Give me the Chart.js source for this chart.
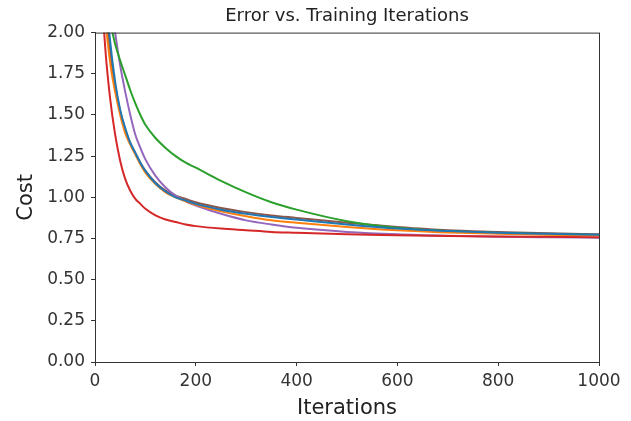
<!DOCTYPE html>
<html>
<head>
<meta charset="utf-8">
<script src="https://cdn.jsdelivr.net/npm/chart.js@4.4.1/dist/chart.umd.min.js"></script>
<style>
  html, body { margin: 0; padding: 0; background: #fff; }
  #wrap { width: 631px; height: 421px; }
</style>
</head>
<body>
<div id="wrap"><canvas id="costChart" width="631" height="421"></canvas></div>
<script>
// iterations
const iterations = [0, 10, 20, 30, 40, 50, 60, 70, 80, 90, 100, 120, 140, 160, 180, 200, 250, 300, 350, 400, 500, 600, 700, 800, 900, 1000];

// cost per run (values above 2 run off the top of the axes)
const costBlue   = [3.6, 2.9, 2.3, 1.95, 1.7, 1.53, 1.42, 1.33, 1.27, 1.21, 1.16, 1.085, 1.035, 1.0, 0.98, 0.96, 0.925, 0.9, 0.88, 0.865, 0.835, 0.81, 0.795, 0.785, 0.778, 0.772];
const costOrange = [3.5, 2.75, 2.12, 1.82, 1.64, 1.5, 1.39, 1.32, 1.26, 1.2, 1.15, 1.08, 1.03, 1.0, 0.975, 0.955, 0.915, 0.885, 0.86, 0.845, 0.82, 0.80, 0.787, 0.779, 0.773, 0.769];
const costGreen  = [3.2, 2.7, 2.35, 2.08, 1.93, 1.83, 1.74, 1.65, 1.57, 1.5, 1.44, 1.36, 1.3, 1.25, 1.21, 1.18, 1.1, 1.03, 0.97, 0.925, 0.855, 0.815, 0.795, 0.783, 0.776, 0.771];
const costRed    = [3.2, 2.45, 1.92, 1.6, 1.38, 1.22, 1.11, 1.04, 0.99, 0.96, 0.93, 0.89, 0.865, 0.85, 0.835, 0.825, 0.81, 0.80, 0.79, 0.785, 0.775, 0.77, 0.765, 0.762, 0.76, 0.758];
const costPurple = [4.0, 3.2, 2.65, 2.25, 2.0, 1.8, 1.64, 1.5, 1.38, 1.3, 1.23, 1.13, 1.06, 1.01, 0.975, 0.95, 0.9, 0.86, 0.835, 0.815, 0.79, 0.775, 0.766, 0.76, 0.757, 0.755];
const costBrown  = [3.5, 2.8, 2.2, 1.88, 1.67, 1.52, 1.41, 1.33, 1.27, 1.21, 1.16, 1.09, 1.04, 1.01, 0.99, 0.97, 0.935, 0.91, 0.89, 0.875, 0.845, 0.82, 0.80, 0.79, 0.781, 0.775];

const yTicks = [0, 0.25, 0.5, 0.75, 1.0, 1.25, 1.5, 1.75, 2.0];
const xTicks = [0, 200, 400, 600, 800, 1000];

const series = [
  { values: costBlue,   color: '#1f77b4' },
  { values: costOrange, color: '#ff7f0e' },
  { values: costGreen,  color: '#2ca02c' },
  { values: costRed,    color: '#d62728' },
  { values: costPurple, color: '#9467bd' },
  { values: costBrown,  color: '#8c564b' }
];

const font = 'DejaVu Sans';
const ink = '#333333';

// matplotlib style box around the axes
const frame = {
  id: 'frame',
  afterDatasetsDraw(chart) {
    const { ctx, chartArea: a } = chart;
    ctx.save();
    ctx.strokeStyle = ink;
    ctx.lineWidth = 1;
    ctx.strokeRect(a.left + 0.5, a.top + 0.5, a.right - a.left, a.bottom - a.top);
    ctx.restore();
  }
};

new Chart(document.getElementById('costChart').getContext('2d'), {
  type: 'line',
  data: {
    datasets: series.map(s => ({
      data: iterations.map((it, i) => ({ x: it, y: s.values[i] })),
      borderColor: s.color,
      borderWidth: 2,
      pointRadius: 0,
      fill: false,
      cubicInterpolationMode: 'monotone'
    }))
  },
  options: {
    responsive: false,
    animation: false,
    layout: { padding: { left: 0, right: 32, top: 0, bottom: 0 } },
    plugins: {
      legend: { display: false },
      tooltip: { enabled: false },
      title: {
        display: true,
        fullSize: false,
        text: 'Error vs. Training Iterations',
        color: '#222',
        font: { family: font, size: 18, weight: 'normal' },
        padding: { top: 6, bottom: 5 }
      }
    },
    scales: {
      x: {
        type: 'linear',
        min: 0,
        max: 1000,
        afterBuildTicks: s => { s.ticks = xTicks.map(v => ({ value: v })); },
        afterFit: s => { s.height = 59; },
        ticks: {
          color: ink,
          font: { family: font, size: 17 },
          padding: 5,
          maxRotation: 0,
          callback: v => String(v)
        },
        grid: { drawOnChartArea: false, drawTicks: true, tickLength: 4, color: ink },
        border: { color: ink },
        title: {
          display: true,
          text: 'Iterations',
          color: '#222',
          font: { family: font, size: 21 },
          padding: { top: 0, bottom: 0 }
        }
      },
      y: {
        type: 'linear',
        min: 0,
        max: 2,
        afterBuildTicks: s => { s.ticks = yTicks.map(v => ({ value: v })); },
        afterFit: s => { s.width = 95; },
        ticks: {
          color: ink,
          font: { family: font, size: 17 },
          padding: 6,
          callback: v => v.toFixed(2)
        },
        grid: { drawOnChartArea: false, drawTicks: true, tickLength: 4, color: ink },
        border: { color: ink },
        title: {
          display: true,
          text: 'Cost',
          color: '#222',
          font: { family: font, size: 21 },
          padding: { top: 14, bottom: 0 }
        }
      }
    }
  },
  plugins: [frame]
});
</script>
</body>
</html>
